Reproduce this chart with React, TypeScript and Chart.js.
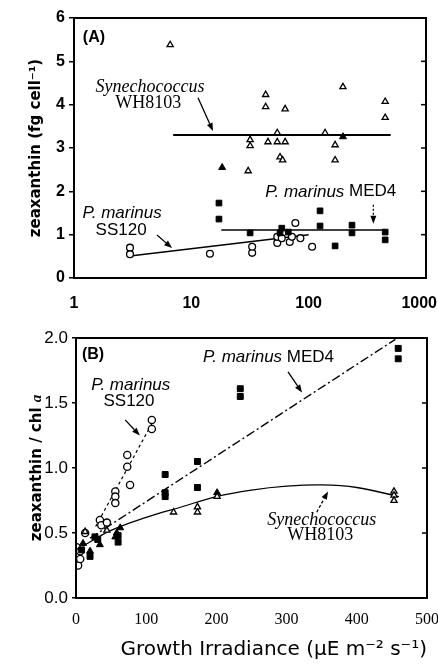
import React, { useEffect, useRef } from "react";
import { Chart, registerables } from "chart.js";

Chart.register(...registerables);

// ---------------- Panel A (log x) ----------------
const A_X_TICKS = [1, 10, 100, 1000];
const A_Y_TICKS = [0, 1, 2, 3, 4, 5, 6];

const A_SS120_X = [3, 3, 14.4, 33, 33, 54, 54, 59, 69, 72, 77, 85, 107];
const A_SS120_Y = [0.7, 0.55, 0.56, 0.58, 0.72, 0.81, 0.95, 0.92, 0.83, 0.95, 1.27, 0.92, 0.72];

const A_MED4_X = [17.2, 17.2, 31.7, 57, 59, 67, 125, 125, 168, 234, 234, 449, 449];
const A_MED4_Y = [1.73, 1.36, 1.04, 1.04, 1.15, 1.06, 1.55, 1.2, 0.74, 1.22, 1.04, 1.06, 0.88];

const A_WH_OPEN_X = [6.6, 30.5, 31.7, 31.7, 43, 43, 45, 54, 54, 57, 60, 63, 63, 138, 168, 168, 196, 449, 449];
const A_WH_OPEN_Y = [5.38, 2.47, 3.19, 3.05, 4.23, 3.95, 3.14, 3.35, 3.14, 2.79, 2.72, 3.9, 3.14, 3.35, 3.07, 2.72, 4.41, 4.07, 3.7];
const A_WH_FILLED_X = [18.3, 196];
const A_WH_FILLED_Y = [2.55, 3.26];

const A_WH_FIT_X = [7, 500];
const A_WH_FIT_Y = [3.3, 3.3];
const A_MED4_FIT_X = [18, 450];
const A_MED4_FIT_Y = [1.11, 1.11];
const A_SS120_FIT_X = [3, 100];
const A_SS120_FIT_Y = [0.51, 1.0];

// ---------------- Panel B (linear x) ----------------
const B_X_TICKS = [0, 100, 200, 300, 400, 500];
const B_Y_TICKS = [0, 0.5, 1.0, 1.5, 2.0];

const B_SS120_X = [1, 3, 6, 6, 13, 34, 36, 44, 56, 56, 56, 73, 73, 77, 108, 108];
const B_SS120_Y = [0.39, 0.25, 0.3, 0.36, 0.5, 0.6, 0.56, 0.58, 0.82, 0.78, 0.73, 1.1, 1.01, 0.87, 1.37, 1.3];

const B_MED4_X = [8, 20, 27, 31, 60, 60, 127, 127, 127, 173, 173, 234, 234, 459, 459];
const B_MED4_Y = [0.37, 0.32, 0.47, 0.45, 0.43, 0.48, 0.95, 0.81, 0.78, 1.05, 0.85, 1.61, 1.55, 1.92, 1.84];

const B_WH_FILLED_X = [10, 20, 34, 56, 58, 63, 201];
const B_WH_FILLED_Y = [0.42, 0.36, 0.41, 0.47, 0.5, 0.54, 0.81];
const B_WH_OPEN_X = [13, 44, 139, 173, 173, 201, 453, 453, 453];
const B_WH_OPEN_Y = [0.51, 0.52, 0.66, 0.66, 0.7, 0.78, 0.82, 0.79, 0.75];

const B_SS120_FIT_X = [28, 112];
const B_SS120_FIT_Y = [0.55, 1.38];
const B_MED4_FIT_X = [20, 455];
const B_MED4_FIT_Y = [0.46, 1.99];
const B_WH_FIT_X = [10, 50, 100, 150, 200, 250, 300, 350, 400, 460];
const B_WH_FIT_Y = [0.4, 0.52, 0.62, 0.7, 0.78, 0.83, 0.86, 0.87, 0.85, 0.78];

// ---------------- helpers ----------------
const pts = (xs: number[], ys: number[]) => xs.map((x, i) => ({ x, y: ys[i] }));

const SANS = "'Liberation Sans', Arial, sans-serif";
const DSANS = "'DejaVu Sans', sans-serif";
const SERIF = "'Liberation Serif', 'Times New Roman', serif";

const F_ITAL_SANS = `italic 17px ${SANS}`;
const F_SANS = `17px ${SANS}`;
const F_ITAL_SERIF = `italic 18px ${SERIF}`;
const F_SERIF = `18px ${SERIF}`;
const F_PANEL = `bold 16px ${SANS}`;

type Seg = { t: string; font: string };
type Label = { x: number; y: number; segs: Seg[]; align: "left" | "center" };
type Arrow = { x1: number; y1: number; x2: number; y2: number; dash?: number[] };

function drawSegs(ctx: CanvasRenderingContext2D, segs: Seg[], x: number, y: number, align: string) {
  let total = 0;
  const widths = segs.map((s) => {
    ctx.font = s.font;
    const w = ctx.measureText(s.t).width;
    total += w;
    return w;
  });
  let cx = align === "center" ? x - total / 2 : x;
  ctx.textAlign = "left";
  segs.forEach((s, i) => {
    ctx.font = s.font;
    ctx.fillText(s.t, cx, y);
    cx += widths[i];
  });
}

function drawArrow(ctx: CanvasRenderingContext2D, x1: number, y1: number, x2: number, y2: number, dash?: number[]) {
  ctx.save();
  ctx.lineWidth = 1.3;
  ctx.setLineDash(dash || []);
  const ang = Math.atan2(y2 - y1, x2 - x1);
  const L = 8;
  const W = 3;
  const bx = x2 - L * Math.cos(ang);
  const by = y2 - L * Math.sin(ang);
  ctx.beginPath();
  ctx.moveTo(x1, y1);
  ctx.lineTo(bx, by);
  ctx.stroke();
  ctx.setLineDash([]);
  ctx.beginPath();
  ctx.moveTo(x2, y2);
  ctx.lineTo(bx + W * Math.sin(ang), by - W * Math.cos(ang));
  ctx.lineTo(bx - W * Math.sin(ang), by + W * Math.cos(ang));
  ctx.closePath();
  ctx.fill();
  ctx.restore();
}

function makeDecor(labels: Label[], arrows: Arrow[], yTitle?: Seg[]) {
  return {
    id: "decor",
    afterDatasetsDraw(chart: any) {
      const { ctx, chartArea: ca } = chart;
      const xs = chart.scales.x;
      const ys = chart.scales.y;
      ctx.save();
      ctx.strokeStyle = "#000";
      ctx.fillStyle = "#000";
      ctx.lineWidth = 2;
      ctx.strokeRect(ca.left, ca.top, ca.right - ca.left, ca.bottom - ca.top);
      ctx.lineWidth = 1.5;
      ys.ticks.forEach((t: any) => {
        const py = ys.getPixelForValue(t.value);
        ctx.beginPath();
        ctx.moveTo(ca.right - 5, py);
        ctx.lineTo(ca.right, py);
        ctx.stroke();
      });
      ctx.textBaseline = "middle";
      labels.forEach((l) => drawSegs(ctx, l.segs, xs.getPixelForValue(l.x), ys.getPixelForValue(l.y), l.align));
      arrows.forEach((a) =>
        drawArrow(
          ctx,
          xs.getPixelForValue(a.x1),
          ys.getPixelForValue(a.y1),
          xs.getPixelForValue(a.x2),
          ys.getPixelForValue(a.y2),
          a.dash
        )
      );
      if (yTitle) {
        ctx.save();
        ctx.translate(37, (ca.top + ca.bottom) / 2);
        ctx.rotate(-Math.PI / 2);
        drawSegs(ctx, yTitle, 0, 0, "center");
        ctx.restore();
      }
      ctx.restore();
    },
  };
}

// keep the last x tick label inside the canvas (right-aligned at the edge)
function patchLastLabel(s: any, rightEdge: number) {
  if (s.__patched) return;
  const orig = s._computeLabelItems.bind(s);
  s._computeLabelItems = (area: any) => {
    const items = orig(area);
    const last = items[items.length - 1];
    if (last && last.options && last.options.translation) {
      const tx = last.options.translation[0];
      const w = s.ctx ? (s.ctx.font = "bold 16px " + SANS, s.ctx.measureText(String(last.label)).width) : 34;
      if (tx + w / 2 > rightEdge) {
        last.options.textAlign = "right";
        last.options.translation = [rightEdge, last.options.translation[1]];
      }
    }
    return items;
  };
  s.__patched = true;
}

const openStyle = (style: string, r: number) => ({
  showLine: false,
  pointStyle: style,
  pointRadius: r,
  pointBackgroundColor: "#fff",
  pointBorderColor: "#000",
  pointBorderWidth: 1.3,
  order: 0,
});
const filledStyle = (style: string, r: number) => ({
  showLine: false,
  pointStyle: style,
  pointRadius: r,
  pointBackgroundColor: "#000",
  pointBorderColor: "#000",
  pointBorderWidth: 1,
  order: 0,
});
const lineStyle = (dash: number[], width: number, tension = 0) => ({
  showLine: true,
  pointRadius: 0,
  borderColor: "#000",
  borderWidth: width,
  borderDash: dash,
  tension,
  fill: false,
  order: 1,
});

const commonPlugins = { legend: { display: false }, tooltip: { enabled: false } };

function configA(): any {
  return {
    type: "scatter",
    data: {
      datasets: [
        { label: "SS120 fit", data: pts(A_SS120_FIT_X, A_SS120_FIT_Y), ...lineStyle([], 1.5) },
        { label: "MED4 fit", data: pts(A_MED4_FIT_X, A_MED4_FIT_Y), ...lineStyle([], 1.5) },
        { label: "WH8103 fit", data: pts(A_WH_FIT_X, A_WH_FIT_Y), ...lineStyle([], 1.8) },
        { label: "WH8103", data: pts(A_WH_OPEN_X, A_WH_OPEN_Y), ...openStyle("triangle", 3.6) },
        { label: "WH8103 (filled)", data: pts(A_WH_FILLED_X, A_WH_FILLED_Y), ...filledStyle("triangle", 4) },
        { label: "MED4", data: pts(A_MED4_X, A_MED4_Y), ...filledStyle("rect", 4) },
        { label: "SS120", data: pts(A_SS120_X, A_SS120_Y), ...openStyle("circle", 3.4) },
      ],
    },
    options: {
      animation: false,
      responsive: false,
      devicePixelRatio: 1,
      layout: { padding: { top: 18, right: 12, left: 0, bottom: 0 } },
      plugins: commonPlugins,
      scales: {
        x: {
          type: "logarithmic",
          min: 1,
          max: 1000,
          afterBuildTicks: (s: any) => {
            s.ticks = A_X_TICKS.map((v) => ({ value: v }));
          },
          afterFit: (s: any) => {
            s.height = 32;
            s.paddingLeft = 0;
            s.paddingRight = 0;
            patchLastLabel(s, 437);
          },
          grid: { display: false },
          border: { display: false },
          ticks: {
            color: "#000",
            font: { family: SANS, size: 16, weight: "bold" },
            padding: 8,
            autoSkip: false,
            maxRotation: 0,
            callback: (v: any) => String(v),
          },
        },
        y: {
          min: 0,
          max: 6,
          afterBuildTicks: (s: any) => {
            s.ticks = A_Y_TICKS.map((v) => ({ value: v }));
          },
          afterFit: (s: any) => {
            s.width = 74;
            s.paddingTop = 0;
            s.paddingBottom = 0;
          },
          grid: { drawOnChartArea: false, drawTicks: true, tickLength: 5, color: "#000", lineWidth: 1.5 },
          border: { display: false },
          ticks: {
            color: "#000",
            font: { family: SANS, size: 16, weight: "bold" },
            padding: 4,
            callback: (v: any) => String(v),
          },
          title: {
            display: true,
            text: "zeaxanthin (fg cell⁻¹)",
            color: "#000",
            font: { family: DSANS, size: 15, weight: "bold" },
            padding: { top: 27, bottom: 0 },
          },
        },
      },
    },
    plugins: [
      makeDecor(
        [
          { x: 1.19, y: 5.54, segs: [{ t: "(A)", font: F_PANEL }], align: "left" },
          { x: 4.45, y: 4.41, segs: [{ t: "Synechococcus", font: F_ITAL_SERIF }], align: "center" },
          { x: 4.3, y: 4.04, segs: [{ t: "WH8103", font: F_SERIF }], align: "center" },
          {
            x: 42.7,
            y: 1.99,
            segs: [
              { t: "P. marinus", font: F_ITAL_SANS },
              { t: " MED4", font: F_SANS },
            ],
            align: "left",
          },
          { x: 2.57, y: 1.5, segs: [{ t: "P. marinus", font: F_ITAL_SANS }], align: "center" },
          { x: 2.52, y: 1.09, segs: [{ t: "SS120", font: F_SANS }], align: "center" },
        ],
        [
          { x1: 11.4, y1: 4.16, x2: 15.3, y2: 3.39 },
          { x1: 356, y1: 1.69, x2: 356, y2: 1.25, dash: [2, 2] },
          { x1: 5.1, y1: 0.99, x2: 6.85, y2: 0.69 },
        ]
      ),
    ],
  };
}

function configB(): any {
  return {
    type: "scatter",
    data: {
      datasets: [
        { label: "SS120 fit", data: pts(B_SS120_FIT_X, B_SS120_FIT_Y), ...lineStyle([3, 3], 1.2) },
        { label: "MED4 fit", data: pts(B_MED4_FIT_X, B_MED4_FIT_Y), ...lineStyle([9, 3, 2, 3], 1.4) },
        { label: "WH8103 fit", data: pts(B_WH_FIT_X, B_WH_FIT_Y), ...lineStyle([], 1.3, 0.4) },
        { label: "WH8103", data: pts(B_WH_OPEN_X, B_WH_OPEN_Y), ...openStyle("triangle", 3.6) },
        { label: "WH8103 (filled)", data: pts(B_WH_FILLED_X, B_WH_FILLED_Y), ...filledStyle("triangle", 4) },
        { label: "MED4", data: pts(B_MED4_X, B_MED4_Y), ...filledStyle("rect", 4.2) },
        { label: "SS120", data: pts(B_SS120_X, B_SS120_Y), ...openStyle("circle", 3.6) },
      ],
    },
    options: {
      animation: false,
      responsive: false,
      devicePixelRatio: 1,
      layout: { padding: { top: 28, right: 11, left: 0, bottom: 0 } },
      plugins: commonPlugins,
      scales: {
        x: {
          type: "linear",
          min: 0,
          max: 500,
          afterBuildTicks: (s: any) => {
            s.ticks = B_X_TICKS.map((v) => ({ value: v }));
          },
          afterFit: (s: any) => {
            s.height = 66;
            s.paddingLeft = 0;
            s.paddingRight = 0;
          },
          grid: { display: false },
          border: { display: false },
          ticks: {
            color: "#000",
            font: { family: SERIF, size: 16 },
            padding: 4,
            autoSkip: false,
            maxRotation: 0,
            callback: (v: any) => String(v),
          },
          title: {
            display: true,
            text: "Growth Irradiance (μE m⁻² s⁻¹)",
            color: "#000",
            align: "end",
            font: { family: DSANS, size: 20 },
            padding: { top: 0, bottom: 2 },
          },
        },
        y: {
          min: 0,
          max: 2,
          afterBuildTicks: (s: any) => {
            s.ticks = B_Y_TICKS.map((v) => ({ value: v }));
          },
          afterFit: (s: any) => {
            s.width = 76;
            s.paddingTop = 0;
            s.paddingBottom = 0;
          },
          grid: { drawOnChartArea: false, drawTicks: true, tickLength: 4, color: "#000", lineWidth: 1.5 },
          border: { display: false },
          ticks: {
            color: "#000",
            font: { family: SANS, size: 17 },
            padding: 4,
            callback: (v: any) => Number(v).toFixed(1),
          },
        },
      },
    },
    plugins: [
      makeDecor(
        [
          { x: 8.5, y: 1.87, segs: [{ t: "(B)", font: F_PANEL }], align: "left" },
          {
            x: 181,
            y: 1.85,
            segs: [
              { t: "P. marinus", font: F_ITAL_SANS },
              { t: " MED4", font: F_SANS },
            ],
            align: "left",
          },
          { x: 78, y: 1.64, segs: [{ t: "P. marinus", font: F_ITAL_SANS }], align: "center" },
          { x: 75.5, y: 1.51, segs: [{ t: "SS120", font: F_SANS }], align: "center" },
          { x: 350, y: 0.6, segs: [{ t: "Synechococcus", font: F_ITAL_SERIF }], align: "center" },
          { x: 348, y: 0.485, segs: [{ t: "WH8103", font: F_SERIF }], align: "center" },
        ],
        [
          { x1: 302, y1: 1.74, x2: 322, y2: 1.58 },
          { x1: 70, y1: 1.37, x2: 91, y2: 1.25 },
          { x1: 343, y1: 0.66, x2: 359, y2: 0.82, dash: [3, 2] },
        ],
        [
          { t: "zeaxanthin / chl ", font: `bold 15px ${DSANS}` },
          { t: "a", font: `italic bold 15px ${SERIF}` },
        ]
      ),
    ],
  };
}

export default function App() {
  const refA = useRef<HTMLCanvasElement | null>(null);
  const refB = useRef<HTMLCanvasElement | null>(null);

  useEffect(() => {
    if (!refA.current || !refB.current) return;
    const ca = new Chart(refA.current, configA());
    const cb = new Chart(refB.current, configB());
    return () => {
      ca.destroy();
      cb.destroy();
    };
  }, []);

  return (
    <div style={{ position: "absolute", left: 0, top: 0, width: 438, height: 664, background: "#fff" }}>
      <canvas
        ref={refA}
        width={438}
        height={310}
        style={{ position: "absolute", left: 0, top: 0, width: 438, height: 310, display: "block" }}
      />
      <canvas
        ref={refB}
        width={438}
        height={354}
        style={{ position: "absolute", left: 0, top: 310, width: 438, height: 354, display: "block" }}
      />
    </div>
  );
}
